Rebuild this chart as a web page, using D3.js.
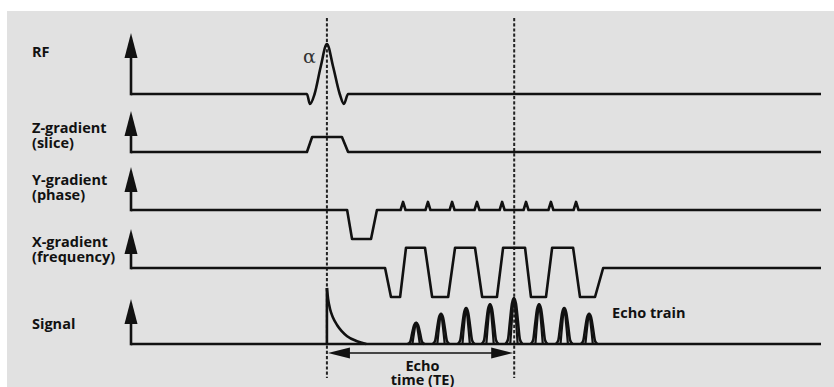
<!DOCTYPE html>
<html>
<head>
<meta charset="utf-8">
<script src="https://cdn.jsdelivr.net/npm/d3@7"></script>
<style>
  body { margin: 0; background: #fff; }
  figure { margin: 0; }
  text { font-family: "Open Sans", sans-serif; font-weight: 700; fill: #111; }
</style>
</head>
<body>
<figure id="chart"></figure>
<script>
// EPI pulse sequence diagram. Time is in ms (one echo spacing = 1 ms), amplitudes are relative.

// row labels, one array per row (second entry goes on a second line)
const rowLabels = [["RF"], ["Z-gradient", "(slice)"], ["Y-gradient", "(phase)"], ["X-gradient", "(frequency)"], ["Signal"]];

// RF excitation pulse (sinc-like), [time, amplitude]
const rfPulse = [[0, 0], [7.14, 0], [7.26, -0.2], [7.45, 0], [7.7, 0.55], [7.95, 1], [8.2, 0.55], [8.47, 0], [8.64, -0.2], [8.81, 0], [28, 0]];

// slice select gradient
const zGradient = [[0, 0], [7.14, 0], [7.35, 1], [8.56, 1], [8.81, 0], [28, 0]];

// phase encoding: prephaser lobe, then small blips
const yPrephase = [[0, 0], [8.77, 0], [8.97, -1], [9.74, -1], [9.98, 0]];
const yBlipTimes = [11.04, 12.05, 13.03, 14.04, 15.06, 16.03, 17.04, 18.06];
const yBlipHeight = 0.28;

// readout gradient, alternating lobes
const xGradient = [[0, 0], [10.31, 0], [10.55, -1], [10.92, -1], [11.16, 0.7], [11.93, 0.7], [12.22, -1], [12.87, -1],
  [13.15, 0.7], [13.96, 0.7], [14.25, -1], [14.85, -1], [15.10, 0.7], [15.99, 0.7], [16.23, -1], [16.84, -1],
  [17.09, 0.7], [17.94, 0.7], [18.22, -1], [18.83, -1], [19.16, 0], [28, 0]];

// signal: free induction decay right after the pulse
const fidDecay = [[7.95, 1], [8.0, 0.8], [8.08, 0.62], [8.2, 0.47], [8.36, 0.34], [8.55, 0.23], [8.77, 0.14], [9.17, 0.05], [9.55, 0]];

// echo train
const echoTimes = [11.57, 12.58, 13.6, 14.57, 15.54, 16.56, 17.58, 18.59];
const echoHeights = [0.38, 0.54, 0.64, 0.71, 0.82, 0.71, 0.64, 0.54];
// shape of one echo, [offset from centre, fraction of height]
const echoOuter = [[-0.34, 0], [-0.24, 0.1], [-0.16, 0.5], [-0.08, 0.88], [0, 1], [0.08, 0.88], [0.16, 0.5], [0.24, 0.1], [0.34, 0]];
const echoInner = [[-0.15, 0], [-0.08, 0.55], [0, 1], [0.08, 0.55], [0.15, 0]];

// pulse centre and echo time
const pulseTime = 7.95;
const echoTime = 15.55;
const timeDomain = [0, 28];

// 1. dimensions and layout
let dimensions = {
  width: 834,
  height: 387,
  plotLeft: 131,
  plotRight: 821,
};

const rowBase = [94, 152, 210, 268, 344];   // baseline of each row
const rowGain = [50, 15, 29, 29, 56];       // pixels for amplitude 1
const arrowTip = [33, 111, 167, 229, 299];
const labelY = [57, 133, 185, 247, 329];
const ink = "#111";
const lw = 2.6;

// 2. svg
const svg = d3.select("figure#chart")
  .append("svg")
  .attr("width", dimensions.width)
  .attr("height", dimensions.height);

svg.append("rect")
  .attr("x", 7).attr("y", 11)
  .attr("width", dimensions.width - 7).attr("height", dimensions.height - 11)
  .attr("fill", "#e1e1e1");

// scales
const xScale = d3.scaleLinear()
  .domain(timeDomain)
  .range([dimensions.plotLeft, dimensions.plotRight]);

const ampScales = rowBase.map((b, i) => d3.scaleLinear()
  .domain([0, 1])
  .range([b, b - rowGain[i]]));

const lineFor = (row, curve) => d3.line()
  .x(d => xScale(d[0]))
  .y(d => ampScales[row](d[1]))
  .curve(curve || d3.curveLinear);

const wave = (row, data, curve, width) => svg.append("path")
  .datum(data)
  .attr("d", lineFor(row, curve))
  .attr("fill", "none")
  .attr("stroke", ink)
  .attr("stroke-width", width || lw)
  .attr("stroke-linejoin", "round");

// 3. row labels
rowLabels.forEach((lines, i) => {
  const t = svg.append("text")
    .attr("x", 32)
    .attr("y", labelY[i])
    .style("font-size", "14.5px");
  lines.forEach((s, j) => t.append("tspan")
    .attr("x", 32)
    .attr("dy", j === 0 ? 0 : 15)
    .text(s));
});

// vertical axis arrows
rowBase.forEach((b, i) => {
  const x0 = xScale(0);
  svg.append("line")
    .attr("x1", x0).attr("x2", x0)
    .attr("y1", b + lw / 2).attr("y2", arrowTip[i] + 20)
    .attr("stroke", ink).attr("stroke-width", lw);
  svg.append("path")
    .attr("d", `M${x0},${arrowTip[i]} L${x0 + 6.5},${arrowTip[i] + 25} L${x0 - 6.5},${arrowTip[i] + 25} Z`)
    .attr("fill", ink);
});

// 4. dashed timing lines
[pulseTime, echoTime].forEach(t => {
  svg.append("line")
    .attr("x1", xScale(t)).attr("x2", xScale(t))
    .attr("y1", 18).attr("y2", 378)
    .attr("stroke", "#222")
    .attr("stroke-width", 2)
    .attr("stroke-dasharray", "3.2 2");
});

// 5. waveforms
wave(0, rfPulse, d3.curveMonotoneX);
wave(1, zGradient);

// y gradient: prephaser then blips then back to baseline
const yPoints = yPrephase.slice();
yBlipTimes.forEach(t => {
  yPoints.push([t - 0.1, 0], [t, yBlipHeight], [t + 0.1, 0]);
});
yPoints.push([timeDomain[1], 0]);
wave(2, yPoints);

wave(3, xGradient);

// signal baseline, FID and echoes
wave(4, [[timeDomain[0], 0], [timeDomain[1], 0]]);
wave(4, [[pulseTime, 0], [pulseTime, 1]]);
wave(4, fidDecay, d3.curveMonotoneX);

echoTimes.forEach((t, i) => {
  const h = echoHeights[i];
  wave(4, echoOuter.map(p => [t + p[0], p[1] * h]), d3.curveMonotoneX, 2.6);
  wave(4, echoInner.map(p => [t + p[0], p[1] * h]), d3.curveMonotoneX, 2.2);
});

// 6. annotations
svg.append("text")
  .attr("x", xScale(pulseTime) - 11)
  .attr("y", 63)
  .attr("text-anchor", "end")
  .style("font-family", "'DejaVu Serif', serif")
  .style("font-weight", 400)
  .style("font-size", "19px")
  .style("fill", "#333")
  .text("α");

svg.append("text")
  .attr("x", xScale(echoTimes[7]) + 23)
  .attr("y", 318)
  .style("font-size", "14.5px")
  .text("Echo train");

// echo time arrow
const teY = 353;
const xa = xScale(pulseTime) + 1;
const xb = xScale(echoTime) - 1;
svg.append("line")
  .attr("x1", xa + 10).attr("x2", xb - 10)
  .attr("y1", teY).attr("y2", teY)
  .attr("stroke", ink).attr("stroke-width", 1.7);
svg.append("path")
  .attr("d", `M${xa},${teY} L${xa + 22},${teY - 5.5} L${xa + 22},${teY + 5.5} Z`)
  .attr("fill", ink);
svg.append("path")
  .attr("d", `M${xb},${teY} L${xb - 22},${teY - 5.5} L${xb - 22},${teY + 5.5} Z`)
  .attr("fill", ink);

const teMid = xScale((pulseTime + echoTime) / 2) + 2;
svg.append("text")
  .attr("x", teMid).attr("y", 371)
  .attr("text-anchor", "middle")
  .style("font-size", "14.5px")
  .text("Echo");
svg.append("text")
  .attr("x", teMid).attr("y", 385)
  .attr("text-anchor", "middle")
  .style("font-size", "14.5px")
  .text("time (TE)");
</script>
</body>
</html>
